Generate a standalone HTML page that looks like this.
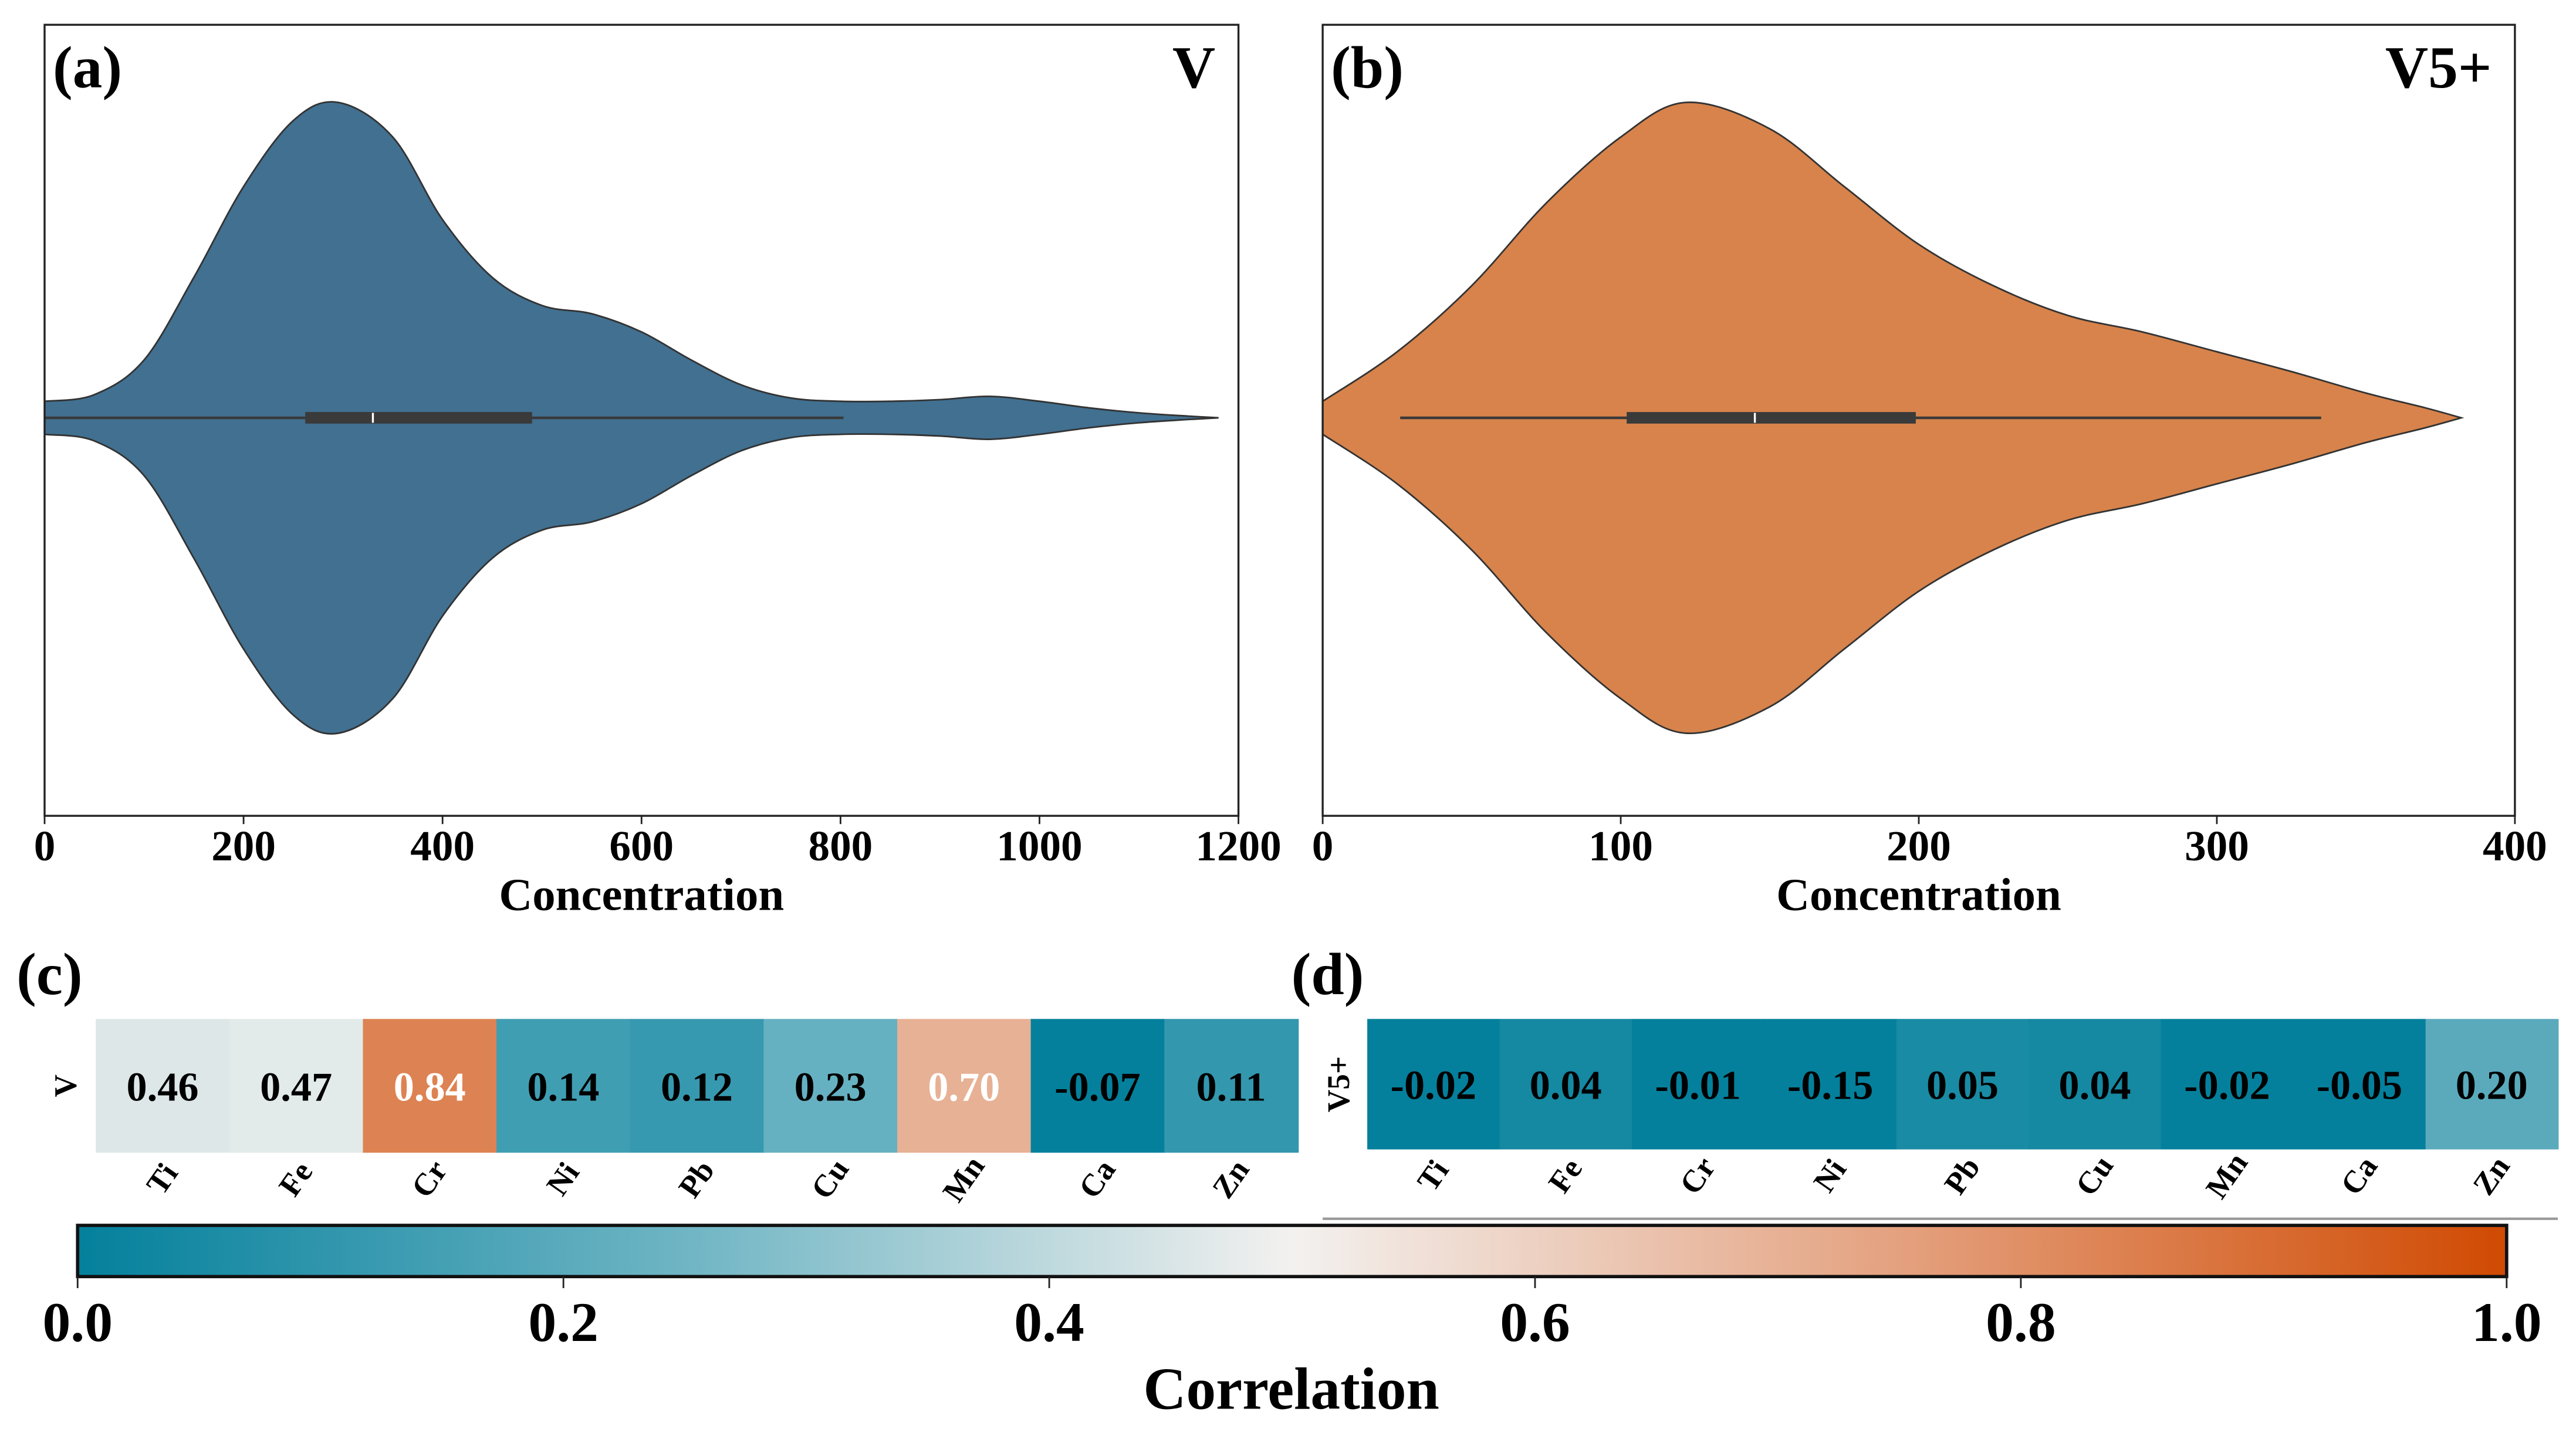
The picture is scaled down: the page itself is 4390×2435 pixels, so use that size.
<!DOCTYPE html>
<html><head><meta charset="utf-8"><style>
html,body{margin:0;padding:0;background:#fff;}
svg{display:block;}
text{font-family:"Liberation Serif",serif;font-weight:bold;}
</style></head><body>
<svg id="fig" width="4390" height="2435" viewBox="0 0 1560 865.3" preserveAspectRatio="none" xmlns="http://www.w3.org/2000/svg"></svg>
<script>
// ---- data ----
const gridA = [0,50,100,150,200,250,295,350,400,450,500,550,600,650,700,750,800,850,900,950,1000,1050,1100,1150,1180];
const densA = [10,14,35,85,140,180,191,170,120,85,68,63,52,35,20,12,10,10,11,13,10,6,3,1,0];
const boxA = [0,262,330,490,803]; // whisker-lo, q1, median, q3, whisker-hi
const gridB = [0,25,50,75,100,122,150,175,200,225,250,275,300,325,350,370,382];
const densB = [10,40,80,130,170,191,175,140,105,80,62,52,40,28,15,6,0];
const boxB = [26,102,145,199,335];
const ticksA = [0,200,400,600,800,1000,1200];
const ticksB = [0,100,200,300,400];
const elements = ["Ti","Fe","Cr","Ni","Pb","Cu","Mn","Ca","Zn"];
const corrV = [0.46,0.47,0.84,0.14,0.12,0.23,0.70,-0.07,0.11];
const corrV5 = [-0.02,0.04,-0.01,-0.15,0.05,0.04,-0.02,-0.05,0.20];
const cbTicks = [0.0,0.2,0.4,0.6,0.8,1.0];

const NS="http://www.w3.org/2000/svg";
const svg=document.getElementById('fig');
function mk(tag,attrs,parent){const e=document.createElementNS(NS,tag);for(const k in attrs)e.setAttribute(k,attrs[k]);(parent||svg).appendChild(e);return e;}
function txt(s,attrs,parent){const e=mk('text',attrs,parent);e.textContent=s;return e;}

const stops=[[0,[4,128,156]],[0.25,[111,181,196]],[0.5,[243,241,239]],[0.75,[228,161,127]],[1,[208,74,2]]];
function cmap(v){v=Math.max(0,Math.min(1,v));for(let i=0;i<stops.length-1;i++){const[a,ca]=stops[i],[b,cb]=stops[i+1];if(v<=b){const t=(v-a)/(b-a);return 'rgb('+ca.map((c,j)=>Math.round(c+(cb[j]-c)*t)).join(',')+')';}}}

function smooth(pts){let d='M'+pts[0][0]+','+pts[0][1];for(let i=0;i<pts.length-1;i++){const p0=pts[Math.max(0,i-1)],p1=pts[i],p2=pts[i+1],p3=pts[Math.min(pts.length-1,i+2)];const c1=[p1[0]+(p2[0]-p0[0])/6,p1[1]+(p2[1]-p0[1])/6],c2=[p2[0]-(p3[0]-p1[0])/6,p2[1]-(p3[1]-p1[1])/6];d+=' C'+c1[0]+','+c1[1]+' '+c2[0]+','+c2[1]+' '+p2[0]+','+p2[1];}return d;}

function violinPanel(o){
  const g=mk('g',{});
  
  
  const sx=v=>o.x0+(v-o.min)/(o.max-o.min)*(o.x1-o.x0);
  const cy=253, scale=1;
  const top=o.grid.map((v,i)=>[sx(v),cy-o.dens[i]*scale]);
  const bot=o.grid.map((v,i)=>[sx(v),cy+o.dens[i]*scale]).reverse();
  let d=smooth(top)+' L'+bot[0][0]+','+bot[0][1]+smooth(bot).replace(/^M[^C]*/,' ')+' Z';
  const p=mk('path',{d:d,fill:o.color,stroke:'#333',"stroke-width":1},g);
  
  
  const b=o.box;
  const w=mk('line',{x1:sx(b[0]),x2:sx(b[4]),y1:cy,y2:cy,stroke:'#3a3a3a',"stroke-width":1.6},g);
  
  
  const r=mk('rect',{x:sx(b[1]),y:cy-3.5,width:sx(b[3])-sx(b[1]),height:7,fill:'#3a3a3a'},g);
  
  
  const m=mk('line',{x1:sx(b[2]),x2:sx(b[2]),y1:cy-3,y2:cy+3,stroke:'#fff',"stroke-width":1.2},g);
  
  
  const fr=mk('rect',{x:o.x0,y:15,width:o.x1-o.x0,height:479,fill:'none',stroke:'#222',"stroke-width":1.2},g);
  
  
  o.ticks.forEach(t=>{
    const tl=mk('line',{x1:sx(t),x2:sx(t),y1:494,y2:499,stroke:'#222',"stroke-width":1},g);
    
    
    const tt=txt(String(t),{x:sx(t),y:521,"text-anchor":"middle","font-size":26},g);
    
    
  });
  const xl=txt('Concentration',{x:(o.x0+o.x1)/2,y:551,"text-anchor":"middle","font-size":28},g);
  
  
  const pl=txt(o.label,{x:o.x0+5,y:53,"font-size":36},g);
  
  
  const st=txt(o.title,{x:o.x1-14,y:53,"text-anchor":"end","font-size":36},g);
  
  
}
violinPanel({name:'violin-panel-v',x0:27,x1:750,min:0,max:1200,grid:gridA,dens:densA,box:boxA,ticks:ticksA,color:'#417091',label:'(a)',title:'V'});
violinPanel({name:'violin-panel-v5',x0:801,x1:1523,min:0,max:400,grid:gridB,dens:densB,box:boxB,ticks:ticksB,color:'#d7834b',label:'(b)',title:'V5+'});

function heatmap(o){
  const g=mk('g',{});
  
  
  const cw=(o.x1-o.x0)/o.vals.length;
  o.vals.forEach((v,i)=>{
    const c=mk('rect',{x:o.x0+i*cw,y:o.y0,width:cw+0.5,height:o.y1-o.y0,fill:cmap(v)},g);
    
    
    const s=(v<0?'-':'')+Math.abs(v).toFixed(2);
    const t=txt(s,{x:o.x0+(i+0.5)*cw,y:(o.y0+o.y1)/2+9,"text-anchor":"middle","font-size":25,fill:(v>0.6?'#fff':'#000')},g);
    
    
    const lx=o.x0+(i+0.5)*cw, ly=o.y1+22;
    const l=txt(elements[i],{x:lx,y:ly,"text-anchor":"middle","font-size":19,transform:'rotate(-55 '+lx+' '+(ly-6)+')'},g);
    
    
  });
  const yx=o.ylabX, yy=(o.y0+o.y1)/2;
  const yl=txt(o.ylab,{x:yx,y:yy,"text-anchor":"middle","font-size":19,transform:'rotate(-90 '+yx+' '+yy+')'},g);
  
  
  const pl=txt(o.label,{x:o.lx,y:602,"font-size":36},g);
  
  
}
heatmap({name:'heatmap-v',x0:58,x1:786,y0:617,y1:698,vals:corrV,ylab:'V',ylabX:46,label:'(c)',lx:10});
heatmap({name:'heatmap-v5',x0:828,x1:1549,y0:617,y1:696,vals:corrV5,ylab:'V5+',ylabX:817,label:'(d)',lx:782});
const sep=mk('line',{x1:801,x2:1549,y1:738,y2:738,stroke:'#999',"stroke-width":1.5});



// colorbar
const defs=mk('defs',{});
const grad=mk('linearGradient',{id:'cbg',x1:0,x2:1,y1:0,y2:0},defs);
stops.forEach(s=>mk('stop',{offset:s[0],"stop-color":cmap(s[0])},grad));
const cbx0=47,cbx1=1518;
const cb=mk('rect',{x:cbx0,y:742,width:cbx1-cbx0,height:31,fill:'url(#cbg)',stroke:'#111',"stroke-width":2});


cbTicks.forEach(t=>{
  const x=cbx0+t*(cbx1-cbx0);
  const l=mk('line',{x1:x,x2:x,y1:773,y2:780,stroke:'#222',"stroke-width":1});
  
  
  const tt=txt(t.toFixed(1),{x:x,y:812,"text-anchor":"middle","font-size":34});
  
  
});
const ct=txt('Correlation',{x:782,y:853,"text-anchor":"middle","font-size":36});


</script>
</body></html>
